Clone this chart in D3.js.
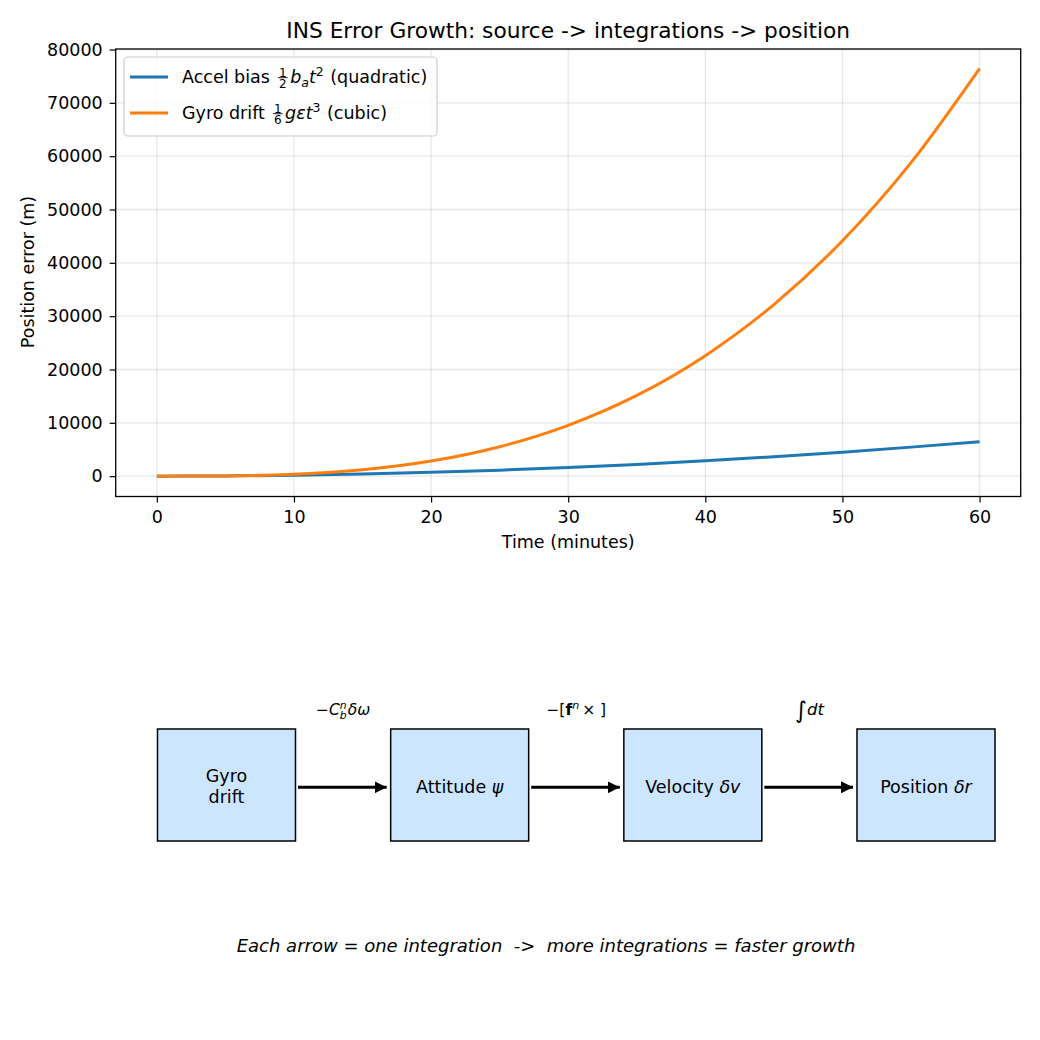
<!DOCTYPE html>
<html>
<head>
<meta charset="utf-8">
<script src="https://cdn.jsdelivr.net/npm/d3@7"></script>
<style>
  body { margin: 0; background: #fff; }
  svg text { font-family: "DejaVu Sans", sans-serif; fill: #000; }
</style>
</head>
<body>
<div id="chart"></div>
<script>
// values (every 5 minutes)
var minutes = [0, 5, 10, 15, 20, 25, 30, 35, 40, 45, 50, 55, 60];
var accelBias = [0, 45, 180, 405, 720, 1125, 1620, 2205, 2880, 3645, 4500, 5445, 6450];
var gyroDrift = [0, 44, 353, 1190, 2825, 5520, 9535, 15140, 22600, 32180, 44150, 58800, 76450];
var xTicks = [0, 10, 20, 30, 40, 50, 60];
var yTicks = [0, 10000, 20000, 30000, 40000, 50000, 60000, 70000, 80000];

var stages = ["Gyro\ndrift", "Attitude", "Velocity", "Position"];

var width = 1040, height = 1040;
var margin = {top: 49, left: 115.7, right: 19.3, bottom: 543.5};
var fs = 17.5;

var svg = d3.select("#chart")
    .append("svg")
    .attr("width", width)
    .attr("height", height);

svg.append("rect").attr("width", width).attr("height", height).attr("fill", "#fff");

var xScale = d3.scaleLinear()
    .domain([-3, 63])
    .range([margin.left, width - margin.right]);

var yScale = d3.scaleLinear()
    .domain([-3814, 80099])
    .range([height - margin.bottom, margin.top]);

var plotBottom = height - margin.bottom;

// grid
svg.append("g").selectAll("line")
    .data(xTicks).enter().append("line")
    .attr("x1", function(d) { return xScale(d); })
    .attr("x2", function(d) { return xScale(d); })
    .attr("y1", margin.top).attr("y2", plotBottom)
    .attr("stroke", "#b0b0b0").attr("stroke-opacity", 0.3).attr("stroke-width", 1.3);
svg.append("g").selectAll("line")
    .data(yTicks).enter().append("line")
    .attr("y1", function(d) { return yScale(d); })
    .attr("y2", function(d) { return yScale(d); })
    .attr("x1", margin.left).attr("x2", width - margin.right)
    .attr("stroke", "#b0b0b0").attr("stroke-opacity", 0.3).attr("stroke-width", 1.3);

var xAxis = svg.append("g")
    .attr("transform", `translate(0,${plotBottom})`)
    .call(d3.axisBottom(xScale).tickValues(xTicks).tickSize(6).tickPadding(8).tickFormat(d3.format("d")));
var yAxis = svg.append("g")
    .attr("transform", `translate(${margin.left},0)`)
    .call(d3.axisLeft(yScale).tickValues(yTicks).tickSize(6).tickPadding(7).tickFormat(d3.format("d")));

[xAxis, yAxis].forEach(function(a) {
    a.select(".domain").remove();
    a.selectAll("line").attr("stroke", "#000").attr("stroke-width", 1.2);
    a.selectAll("text").attr("font-size", fs).attr("font-family", "DejaVu Sans");
});

// lines
var line = function(vals) {
    return d3.line()
        .x(function(d, i) { return xScale(minutes[i]); })
        .y(function(d) { return yScale(d); })
        .curve(d3.curveMonotoneX)(vals);
};

svg.append("path").attr("d", line(accelBias))
    .attr("fill", "none").attr("stroke", "#1f77b4").attr("stroke-width", 3);
svg.append("path").attr("d", line(gyroDrift))
    .attr("fill", "none").attr("stroke", "#ff7f0e").attr("stroke-width", 3);

// frame
svg.append("rect")
    .attr("x", margin.left).attr("y", margin.top)
    .attr("width", width - margin.right - margin.left)
    .attr("height", plotBottom - margin.top)
    .attr("fill", "none").attr("stroke", "#000").attr("stroke-width", 1.3);

// title and labels
svg.append("text")
    .attr("x", (margin.left + width - margin.right) / 2).attr("y", 38)
    .attr("text-anchor", "middle").attr("font-size", 21.7)
    .text("INS Error Growth: source -> integrations -> position");

svg.append("text")
    .attr("x", (margin.left + width - margin.right) / 2).attr("y", 548)
    .attr("text-anchor", "middle").attr("font-size", fs)
    .text("Time (minutes)");

svg.append("text")
    .attr("transform", "rotate(-90)")
    .attr("x", -272).attr("y", 34)
    .attr("text-anchor", "middle").attr("font-size", fs)
    .text("Position error (m)");

// rich text: one <text>, pieces laid out left to right as tspans
function richText(parent, x, y, parts, anchor) {
    var g = parent.append("g");
    var txt = g.append("text");
    var cx = 0;
    function piece(str, px, py, size) {
        return txt.append("tspan").attr("x", px).attr("y", py)
            .attr("font-size", size).style("white-space", "pre").text(str);
    }
    parts.forEach(function(p) {
        var size = p.size || fs;
        if (p.frac) {
            var s = 12;
            var n = piece(p.frac[0], 0, -6.5, s);
            var dn = piece(p.frac[1], 0, 5, s);
            var wn = n.node().getComputedTextLength(), wd = dn.node().getComputedTextLength();
            var w = Math.max(wn, wd) + 2;
            n.attr("x", cx + 2.5 + (w - wn) / 2);
            dn.attr("x", cx + 2.5 + (w - wd) / 2);
            g.append("line").attr("x1", cx + 2.5).attr("x2", cx + 2.5 + w)
                .attr("y1", -5.3).attr("y2", -5.3).attr("stroke", "#000").attr("stroke-width", 0.9);
            cx += w + 5;
        } else if (p.subsup) {
            var s2 = size * 0.7;
            var sub = piece(p.subsup[0], cx, 4, s2).attr("font-style", "italic");
            var sup = piece(p.subsup[1], cx, -6, s2).attr("font-style", "italic");
            cx += Math.max(sub.node().getComputedTextLength(), sup.node().getComputedTextLength()) + 1;
        } else {
            var t = piece(p.t, cx, p.dy || 0, size)
                .attr("font-style", p.italic ? "italic" : null)
                .attr("font-weight", p.bold ? "bold" : null);
            cx += t.node().getComputedTextLength() + (p.gap || 0);
        }
    });
    var x0 = anchor === "middle" ? x - cx / 2 : x;
    g.attr("transform", `translate(${x0},${y})`);
    return g;
}

// legend
var legend = svg.append("g");
legend.append("rect")
    .attr("x", 124).attr("y", 57).attr("width", 313).attr("height", 79)
    .attr("rx", 4).attr("fill", "#fff").attr("fill-opacity", 0.8)
    .attr("stroke", "#cccccc").attr("stroke-width", 1.2);

var legendRows = [
    {color: "#1f77b4", y: 77, parts: [
        {t: "Accel bias "}, {frac: ["1", "2"]}, {t: "b", italic: true},
        {t: "a", italic: true, size: 12.5, dy: 3.5}, {t: "t", italic: true},
        {t: "2", size: 12.5, dy: -7.5, gap: 1}, {t: " (quadratic)"}]},
    {color: "#ff7f0e", y: 113, parts: [
        {t: "Gyro drift "}, {frac: ["1", "6"]}, {t: "gεt", italic: true},
        {t: "3", size: 12.5, dy: -7.5, gap: 1}, {t: " (cubic)"}]}
];
legendRows.forEach(function(r) {
    legend.append("line").attr("x1", 130).attr("x2", 168)
        .attr("y1", r.y).attr("y2", r.y)
        .attr("stroke", r.color).attr("stroke-width", 3);
    richText(legend, 182, r.y + 6, r.parts, "start");
});

// block diagram
var boxX = d3.scalePoint().domain(d3.range(stages.length)).range([226.5, 926]);
var boxW = 138, boxTop = 729, boxH = 112, midY = 787.3;

svg.append("defs").append("marker")
    .attr("id", "head").attr("viewBox", "0 0 10 10")
    .attr("refX", 10).attr("refY", 5)
    .attr("markerWidth", 4).attr("markerHeight", 4)
    .attr("markerUnits", "strokeWidth")
    .attr("orient", "auto")
    .append("path").attr("d", "M0,0 L10,5 L0,10 z").attr("fill", "#000");

var diagram = svg.append("g");
diagram.selectAll("rect")
    .data(stages).enter().append("rect")
    .attr("x", function(d, i) { return boxX(i) - boxW / 2; })
    .attr("y", boxTop).attr("width", boxW).attr("height", boxH)
    .attr("fill", "#cce6ff").attr("stroke", "#000").attr("stroke-width", 1.5);

var boxLabels = [
    null,
    [{t: "Attitude "}, {t: "ψ", italic: true}],
    [{t: "Velocity "}, {t: "δv", italic: true}],
    [{t: "Position "}, {t: "δr", italic: true}]
];
diagram.append("text").attr("x", boxX(0)).attr("y", 782)
    .attr("text-anchor", "middle").attr("font-size", fs).text("Gyro");
diagram.append("text").attr("x", boxX(0)).attr("y", 803)
    .attr("text-anchor", "middle").attr("font-size", fs).text("drift");
boxLabels.forEach(function(parts, i) {
    if (parts) richText(diagram, boxX(i), 793, parts, "middle");
});

var arrowLabels = [
    [{t: "−", size: 15.5}, {t: "C", italic: true, size: 15.5}, {subsup: ["b", "n"], size: 15.5}, {t: "δω", italic: true, size: 15.5}],
    [{t: "−[", size: 15.5}, {t: "f", bold: true, size: 15.5}, {t: "n", italic: true, size: 11, dy: -6.5, gap: 3}, {t: "× ]", size: 15.5}],
    [{t: "∫", size: 23, dy: 3, gap: 0}, {t: "dt", italic: true, size: 16.5}]
];
arrowLabels.forEach(function(parts, i) {
    var x1 = boxX(i) + boxW / 2 + 2.5, x2 = boxX(i + 1) - boxW / 2 - 4;
    diagram.append("line")
        .attr("x1", x1).attr("x2", x2).attr("y1", midY).attr("y2", midY)
        .attr("stroke", "#000").attr("stroke-width", 3)
        .attr("marker-end", "url(#head)");
    richText(diagram, (boxX(i) + boxX(i + 1)) / 2, 715, parts, "middle");
});

svg.append("text")
    .attr("x", 546).attr("y", 952)
    .attr("text-anchor", "middle").attr("font-size", 18)
    .attr("font-style", "italic")
    .style("white-space", "pre")
    .text("Each arrow = one integration  ->  more integrations = faster growth");
</script>
</body>
</html>
